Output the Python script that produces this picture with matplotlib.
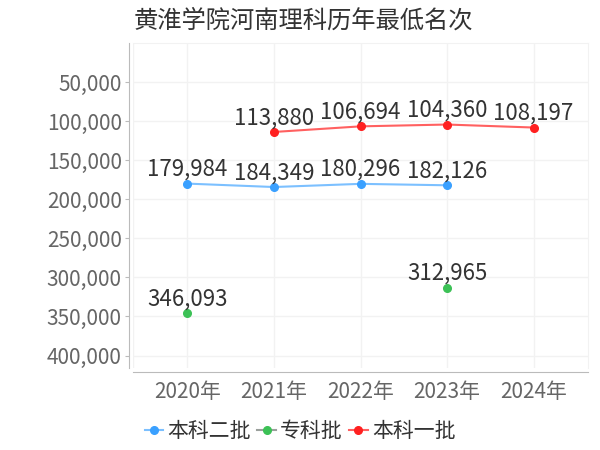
import matplotlib
matplotlib.use("Agg")
import matplotlib.pyplot as plt
import numpy as np

plt.rcParams['font.family'] = ['Noto Sans CJK SC', 'DejaVu Sans']

title = "黄淮学院河南理科历年最低名次"
years = ["2020年", "2021年", "2022年", "2023年", "2024年"]
series_names = ["本科二批", "专科批", "本科一批"]
benke2 = [179984, 184349, 180296, 182126, None]
zhuanke = [346093, None, None, 312965, None]
benke1 = [None, 113880, 106694, 104360, 108197]
yticks = [50000, 100000, 150000, 200000, 250000, 300000, 350000, 400000]

colors = ["#3aa0ff", "#3cc156", "#ff2020"]
line_colors = ["#7cc0ff", "#9aa09c", "#ff6060"]

PX = 72 / 100.0  # points per pixel

fig = plt.figure(figsize=(6, 4.5), dpi=100)
W, H = 600, 450
ax = fig.add_axes([133 / W, 1 - 368 / H, (588 - 133) / W, (368 - 43) / H])

x = np.arange(len(years))
for name, vals, c, lc in zip(series_names, [benke2, zhuanke, benke1], colors, line_colors):
    xs = [xi for xi, v in zip(x, vals) if v is not None]
    ys = [v for v in vals if v is not None]
    segx, segy = [], []
    for i, v in enumerate(vals):
        if v is None:
            if len(segx) > 1:
                ax.plot(segx, segy, color=lc, lw=1.5, zorder=2)
            segx, segy = [], []
        else:
            segx.append(x[i]); segy.append(v)
    if len(segx) > 1:
        ax.plot(segx, segy, color=lc, lw=1.5, zorder=2)
    ax.plot(xs, ys, linestyle='none', marker='o', ms=5.5, color=c, zorder=3)
    for xi, v in zip(xs, ys):
        ax.annotate(f"{v:,}", (xi, v), xytext=(0, 2), textcoords='offset points',
                    ha='center', va='bottom', fontsize=16, color='#333333', zorder=4)

handles = []
for name, c, lc in zip(series_names, colors, line_colors):
    h, = ax.plot([], [], color=lc, lw=1.5, marker='o', ms=5.5, mfc=c, mec=c, label=name)
    handles.append(h)
leg = fig.legend(handles=handles, loc='center', bbox_to_anchor=(300 / W, 1 - 431 / H),
                 ncol=3, frameon=False, fontsize=15, handlelength=0.9, handletextpad=0.2,
                 columnspacing=0.3, borderaxespad=0)
for t in leg.get_texts():
    t.set_color('#333333')

ax.set_xlim(-0.63, 4.63)
ax.set_ylim(416000, 0)
ax.set_xticks(x)
ax.set_xticklabels(years)
ax.set_yticks(yticks)
ax.set_yticklabels([f"{v:,}" for v in yticks])

ax.grid(True, color='#f2f2f2', lw=1, zorder=0)
ax.set_axisbelow(True)
for s in ['top', 'right']:
    ax.spines[s].set_color('#f2f2f2')
ax.axvline(-0.63, color='#f2f2f2', lw=1, zorder=0)
ax.spines['left'].set_position(('outward', 4 * PX))
ax.spines['bottom'].set_position(('outward', 4 * PX))
ax.spines['left'].set_color('#bbbbbb')
ax.spines['bottom'].set_color('#bbbbbb')
ax.tick_params(axis='y', length=3, color='#bbbbbb', labelsize=15, labelcolor='#666666', pad=3 * PX)
ax.tick_params(axis='x', length=0, labelsize=15, labelcolor='#666666', pad=9 * PX)

fig.text(134 / W, 1 - 21 / H, title, ha='left', va='center', fontsize=17.5, color='#333333')

fig.savefig("out.png", dpi=100)
